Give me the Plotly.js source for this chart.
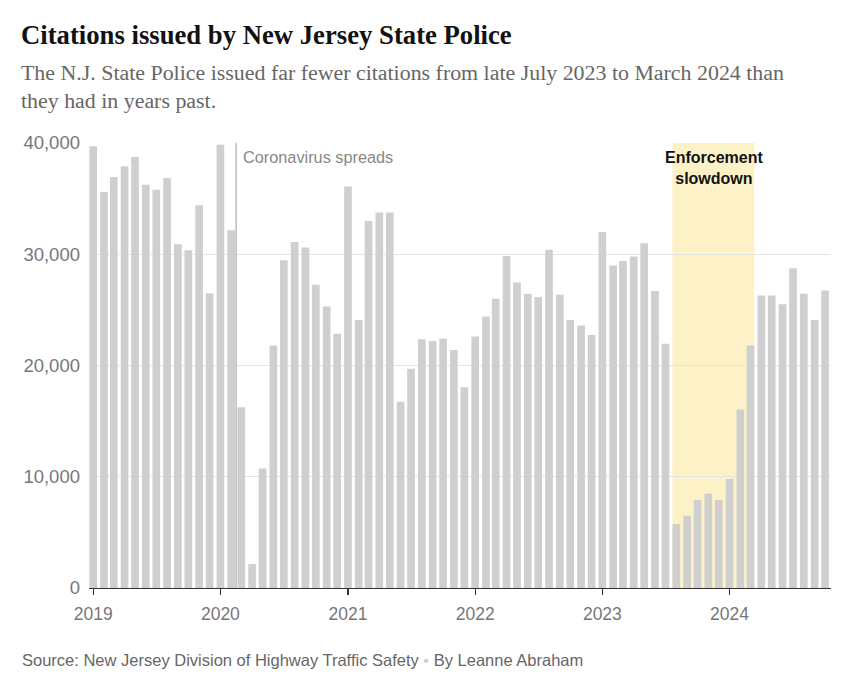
<!DOCTYPE html>
<html>
<head>
<meta charset="utf-8">
<script src="https://cdn.plot.ly/plotly-3.0.1.min.js"></script>
<style>
  html, body { margin: 0; padding: 0; background: #fff; }
  #chart { width: 847px; height: 688px; }
</style>
</head>
<body>
<div id="chart"></div>
<script>
// Monthly citations, Jan 2019 – Oct 2024
const startYear = 2019;
const citations2019 = [39700, 35600, 36950, 37900, 38750, 36250, 35800, 36850, 30900, 30350, 34400, 26500];
const citations2020 = [39850, 32150, 16250, 2150, 10750, 21800, 29450, 31100, 30600, 27250, 25300, 22850];
const citations2021 = [36100, 24100, 33000, 33750, 33750, 16750, 19700, 22350, 22200, 22400, 21400, 18050];
const citations2022 = [22600, 24400, 26000, 29850, 27450, 26450, 26150, 30400, 26350, 24100, 23600, 22750];
const citations2023 = [32000, 29000, 29400, 29800, 31000, 26700, 21950, 5750, 6500, 7900, 8500, 7900];
const citations2024 = [9800, 16050, 21800, 26300, 26300, 25500, 28750, 26450, 24100, 26750];

const yTickVals = [0, 10000, 20000, 30000, 40000];
const covidDate = '2020-02-15';
const covidLabel = 'Coronavirus spreads';
const slowdownStart = '2023-07-21';
const slowdownEnd = '2024-03-12';
const slowdownLabel = 'Enforcement<br>slowdown';

const values = [].concat(citations2019, citations2020, citations2021, citations2022, citations2023, citations2024);
const months = values.map((v, i) => {
  const y = startYear + Math.floor(i / 12);
  const m = (i % 12) + 1;
  return y + '-' + String(m).padStart(2, '0') + '-01';
});

const DAY = 86400000;
const barWidth = 22 * DAY;

const plotL = 89, plotR = 16, plotT = 143, plotB = 100;
const W = 847, H = 688;
const pw = W - plotL - plotR, ph = H - plotT - plotB;
const px = x => (x - plotL) / pw;
const py = y => (H - plotB - y) / ph;

const trace = {
  type: 'bar',
  x: months,
  y: values,
  width: months.map(() => barWidth),
  marker: { color: '#cfcfcf' },
  hoverinfo: 'x+y'
};

const layout = {
  width: W, height: H,
  margin: { l: plotL, r: plotR, t: plotT, b: plotB },
  paper_bgcolor: '#fff',
  plot_bgcolor: '#fff',
  showlegend: false,
  font: { family: 'Liberation Sans, Arial, sans-serif', color: '#777' },
  xaxis: {
    type: 'date',
    range: ['2018-12-20', '2024-10-18'],
    tick0: '2019-01-01',
    dtick: 'M12',
    tickformat: '%Y',
    ticks: 'outside',
    ticklen: 6,
    tickcolor: '#333',
    tickwidth: 1.3,
    showline: true,
    linecolor: '#333',
    linewidth: 1.3,
    showgrid: false,
    zeroline: false,
    ticklabelstandoff: 4,
    tickfont: { size: 17.5, color: '#777' },
    fixedrange: true
  },
  yaxis: {
    range: [0, 40000],
    tickvals: yTickVals,
    tickformat: ',d',
    showgrid: true,
    gridcolor: '#e4e4e4',
    gridwidth: 1,
    zeroline: false,
    showline: false,
    ticks: '',
    ticklabelstandoff: 8,
    tickfont: { size: 18.5, color: '#777' },
    fixedrange: true
  },
  shapes: [
    {
      type: 'rect', layer: 'below', xref: 'x', yref: 'y',
      x0: slowdownStart, x1: slowdownEnd, y0: 0, y1: 40000,
      fillcolor: '#fdf2c7', line: { width: 0 }
    },
    {
      type: 'line', layer: 'above', xref: 'x', yref: 'y',
      x0: covidDate, x1: covidDate, y0: 0, y1: 40000,
      line: { color: '#999', width: 1 }
    }
  ],
  annotations: [
    {
      xref: 'paper', yref: 'paper', x: px(19), y: py(35),
      xanchor: 'left', yanchor: 'middle', showarrow: false,
      text: '<b>Citations issued by New Jersey State Police</b>',
      font: { family: 'Liberation Serif, DejaVu Serif, serif', size: 26.7, color: '#121212' }
    },
    {
      xref: 'paper', yref: 'paper', x: px(19), y: py(58),
      xanchor: 'left', yanchor: 'top', showarrow: false, align: 'left',
      text: 'The N.J. State Police issued far fewer citations from late July 2023 to March 2024 than<br>they had in years past.',
      font: { family: 'Liberation Serif, DejaVu Serif, serif', size: 21.9, color: '#666' }
    },
    {
      xref: 'x', yref: 'y', x: covidDate, y: 40000,
      xanchor: 'left', yanchor: 'top', xshift: 5, yshift: -3, showarrow: false,
      text: covidLabel,
      font: { family: 'Liberation Sans, Arial, sans-serif', size: 16.3, color: '#888' }
    },
    {
      xref: 'x', yref: 'y', x: '2023-11-16', y: 40000,
      xanchor: 'center', yanchor: 'top', yshift: -4, showarrow: false,
      text: '<b>' + slowdownLabel + '</b>',
      font: { family: 'Liberation Sans, Arial, sans-serif', size: 16, color: '#121212' }
    },
    {
      xref: 'paper', yref: 'paper', x: px(20), y: py(660),
      xanchor: 'left', yanchor: 'middle', showarrow: false,
      text: 'Source: New Jersey Division of Highway Traffic Safety <span style="color:#d0d0d0">•</span> By Leanne Abraham',
      font: { family: 'Liberation Sans Narrow, Liberation Sans, Arial, sans-serif', size: 16.5, color: '#666' }
    }
  ]
};

Plotly.newPlot('chart', [trace], layout, { displayModeBar: false, staticPlot: true });
</script>
</body>
</html>
